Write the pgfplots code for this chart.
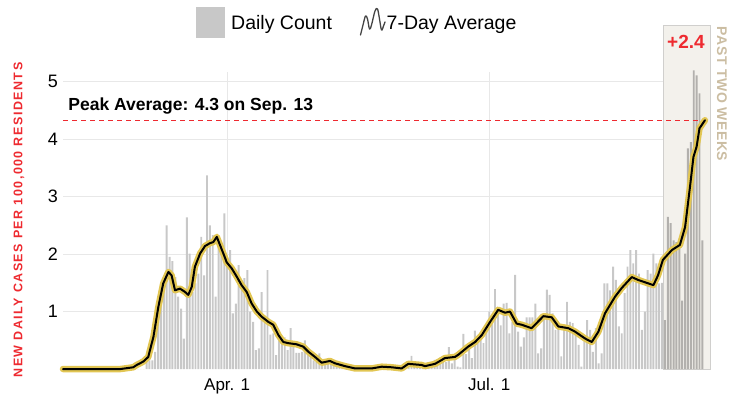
\documentclass[border=0pt]{standalone}
\usepackage{fontspec}
\setmainfont{Liberation Sans}
\newfontfamily\spacedfont[LetterSpace=12]{Liberation Sans}
\newfontfamily\spacedfontb[LetterSpace=4]{Liberation Sans}
\usepackage{pgfplots}
\usepackage{pgfplotstable}
\pgfplotsset{compat=1.18}
\definecolor{barc}{HTML}{C8C8C8}
\definecolor{barc2}{HTML}{B2B0AD}
\definecolor{halo}{HTML}{E2C653}
\definecolor{redc}{HTML}{EE2A30}
\definecolor{boxfill}{HTML}{F3F1EC}
\definecolor{boxdraw}{HTML}{D0CFCD}
\definecolor{gridc}{HTML}{E8E8E8}
\definecolor{tanc}{HTML}{CBBDA2}
\definecolor{iconc}{HTML}{444444}

\pgfplotstableread{
d v
0 0
1 0
2 0
3 0
4 0
5 0
6 0
7 0
8 0
9 0
10 0
11 0
12 0
13 0
14 0
15 0
16 0
17 0
18 0
19 0
20 0
21 0
22 0
23 0
24 0
25 0
26 0
27 0
28 0
29 0.21
30 0.15
31 0.15
32 0.3
33 0.9
34 1.25
35 1.5
36 2.5
37 1.95
38 1.88
39 1.6
40 1.26
41 1.05
42 0.53
43 2.64
44 2.01
45 1.34
46 1.49
47 1.66
48 2.3
49 1.63
50 3.37
51 2.5
52 2.33
53 1.26
54 2.2
55 2.12
56 2.71
57 1.9
58 2.07
59 0.97
60 1.14
61 1.81
62 1.5
63 1.58
64 1.72
65 1.0
66 0.82
67 0.33
68 0.36
69 1.34
70 0.85
71 1.72
72 0.6
73 0.62
74 0.24
75 0.5
76 0.45
77 0.55
78 0.33
79 0.71
80 0.39
81 0.28
82 0.28
83 0.3
84 0.5
85 0.3
86 0.21
87 0.15
88 0.12
89 0.27
90 0.1
91 0.12
92 0.1
93 0.1
94 0.1
95 0.08
96 0.05
97 0.03
98 0.04
99 0.02
100 0.01
101 0.0
102 0.02
103 0.01
104 0.0
105 0.02
106 0.01
107 0.03
108 0.05
109 0.04
110 0.03
111 0.05
112 0.02
113 0.04
114 0.03
115 0.01
116 0.02
117 0.0
118 0.03
119 0.08
120 0.07
121 0.23
122 0.05
123 0.06
124 0.08
125 0.07
126 0.04
127 0.06
128 0.1
129 0.16
130 0.08
131 0.2
132 0.19
133 0.12
134 0.38
135 0.1
136 0.26
137 0.04
138 0.03
139 0.61
140 0.26
141 0.45
142 0.19
143 0.67
144 0.5
145 0.56
146 0.45
147 0.7
148 1.0
149 0.8
150 1.39
151 0.94
152 0.76
153 1.14
154 1.15
155 0.62
156 0.82
157 1.64
158 0.65
159 0.39
160 0.55
161 0.90
162 0.90
163 0.90
164 1.14
165 0.27
166 0.36
167 0.97
168 1.38
169 1.29
170 0.97
171 0.68
172 0.80
173 0.22
174 0.68
175 1.17
176 0.82
177 0.80
178 0.68
179 0.42
180 0.04
181 0.51
182 0.85
183 0.68
184 0.30
185 0.71
186 0.10
187 0.27
188 1.49
189 1.49
190 1.37
191 1.78
192 1.55
193 0.74
194 0.62
195 1.32
196 1.78
197 2.07
198 1.84
199 2.07
200 1.66
201 0.68
202 1.0
203 1.72
204 1.66
205 2.01
206 1.84
207 1.49
208 1.5
209 0.85
210 2.65
211 2.54
212 2.24
213 2.21
214 2.12
215 1.19
216 2.01
217 3.84
218 3.95
219 5.2
220 5.11
221 4.8
222 2.24
}\bars

\pgfplotstableread{
d v
0 0
20 0
21.5 0.01
24.4 0.03
25.6 0.07
27.9 0.13
29.6 0.21
31.4 0.56
33.1 1.08
34.8 1.49
36.6 1.69
37.7 1.63
38.9 1.37
40.6 1.40
42.4 1.34
43.5 1.29
44.7 1.43
45.8 1.78
47.6 2.01
49.3 2.14
51.0 2.19
52.2 2.21
53.4 2.30
54.5 2.16
56.3 1.93
56.8 1.86
58.6 1.75
60.3 1.61
62.0 1.46
63.8 1.34
65.5 1.14
67.3 1.0
69.0 0.91
71.3 0.82
73.0 0.77
74.8 0.59
76.5 0.47
78.2 0.45
81.1 0.43
83.4 0.39
85.2 0.30
87.5 0.21
89.8 0.11
92.7 0.14
94.4 0.10
97.9 0.05
101.4 0.01
107.2 0.01
110.7 0.04
114.1 0.03
117.6 0.01
119.9 0.09
124.5 0.07
125.7 0.05
129.2 0.09
132.6 0.19
136.1 0.21
137.3 0.25
140.7 0.39
143.1 0.47
145.4 0.59
148.3 0.82
151.1 1.03
153.5 0.98
155.2 1.0
157.5 0.79
159.3 0.77
162.7 0.71
166.8 0.92
169.7 0.90
172.0 0.74
175.5 0.71
177.8 0.65
181.3 0.53
183.6 0.47
185.9 0.65
188.2 0.97
191.7 1.26
194.0 1.41
197.5 1.60
199.7 1.55
205.0 1.46
206.6 1.63
208.3 1.90
211.4 2.07
214.2 2.16
216.0 2.47
217.7 3.17
218.9 3.69
220.0 3.87
221.0 4.19
222.9 4.33
}\avg

\begin{document}
\begin{tikzpicture}
\path[use as bounding box] (0pt,0pt) rectangle (740pt,397pt);
% legend
\fill[barc] (196pt,359pt) rectangle (225pt,390pt);
\node[anchor=base west,inner sep=0,font=\fontsize{19.5}{20}\selectfont] at (231pt,367pt) {Daily Count};
\draw[iconc,line width=1.3pt,line cap=round,line join=round] plot[smooth,tension=0.6] coordinates {(360.5pt,362pt) (363pt,372pt) (365.5pt,381pt) (367.5pt,378pt) (369.5pt,368pt) (371.5pt,372pt) (375pt,386pt) (377.5pt,388pt) (379.5pt,378pt) (381.5pt,367pt) (383.5pt,371pt) (385pt,375pt)};
\node[anchor=base west,inner sep=0,font=\fontsize{19.5}{20}\selectfont] at (386.5pt,367pt) {7-Day Average};
% y label
\node[rotate=90,inner sep=0,text=redc,font=\spacedfont\bfseries\fontsize{12.5}{12.5}\selectfont] at (19pt,177pt) {NEW DAILY CASES PER 100,000 RESIDENTS};
% right label
\node[rotate=-90,inner sep=0,text=tanc,font=\spacedfontb\bfseries\fontsize{14}{14}\selectfont] at (722pt,303pt) {PAST TWO WEEKS};
\begin{axis}[
  at={(63pt,28pt)}, anchor=south west,
  scale only axis, width=647pt, height=297pt,
  xmin=0, xmax=224.65, ymin=0, ymax=5.17,
  clip=false,
  axis line style={draw=none},
  major tick length=0pt,
  xtick={57,148}, xticklabels={Apr. 1, Jul. 1},
  ytick={1,2,3,4,5},
  xmajorgrids, ymajorgrids,
  grid style={gridc, line width=1pt},
  /pgf/number format/assume math mode=true,
  xticklabel style={anchor=base, inner sep=0pt, yshift=-21pt, font=\fontsize{17}{17}\selectfont},
  yticklabel style={anchor=east, inner sep=0pt, xshift=-5pt, font=\fontsize{18}{18}\selectfont},
]
\fill[boxfill,draw=boxdraw,line width=1pt] (axis cs:208.5,0) rectangle (axis cs:224.65,5.98);
\addplot[ybar, bar width=0.68, fill=barc, draw=none, restrict x to domain=0:208.6] table[x=d,y=v] {\bars};
\addplot[ybar, bar width=0.68, fill=barc2, draw=none, restrict x to domain=208.6:230] table[x=d,y=v] {\bars};
\draw[redc, line width=1.4pt, dash pattern=on 5pt off 4pt] (axis cs:0,4.33) -- (axis cs:222.9,4.33);
\addplot[halo, line width=6.5pt, line join=round, line cap=round, no markers] table[x=d,y=v] {\avg};
\addplot[black, line width=2pt, line join=round, line cap=round, no markers] table[x=d,y=v] {\avg};
\node[anchor=base west, inner sep=0, font=\bfseries\fontsize{17.5}{18}\selectfont] at (axis cs:1.8,4.5) {Peak Average: 4.3 on Sep. 13};
\node[inner sep=0, text=redc, font=\bfseries\fontsize{19}{19}\selectfont] at (axis cs:216.3,5.69) {+2.4};
\end{axis}
\end{tikzpicture}
\end{document}
